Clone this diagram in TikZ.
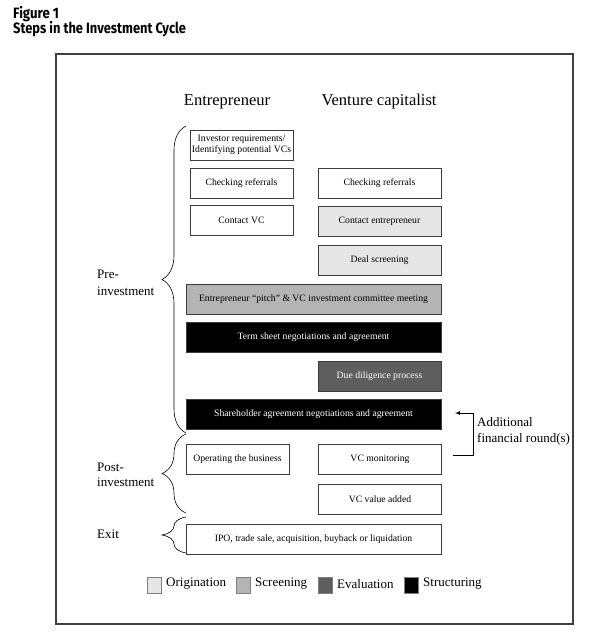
\documentclass[tikz,border=0pt]{standalone}
\usepackage{fontspec}
\setmainfont{Liberation Serif}
\newfontfamily\titlefont{Fira Sans}
\usepackage{graphicx}
\usepackage{tikz}
\usetikzlibrary{decorations.pathreplacing}
\tikzset{>=latex}
\definecolor{origcol}{HTML}{E6E6E6}
\definecolor{screencol}{HTML}{B4B4B4}
\definecolor{evalcol}{HTML}{5E5E5E}
\definecolor{boxline}{HTML}{3C3C3C}
\tikzset{
  stagebox/.style={draw=boxline, line width=0.8pt, minimum height=30pt, inner sep=2pt,
    align=center, font=\fontsize{9.7}{11}\selectfont},
  ebox/.style={stagebox, minimum width=103pt},
  vcbox/.style={stagebox, minimum width=123pt},
  widebox/.style={stagebox, minimum width=255pt},
  structbox/.style={widebox, fill=black, text=white},
  phase/.style={anchor=west, align=left, inner sep=0pt},
  phasebrace/.style={decorate, decoration={brace, amplitude=24pt}, line width=0.6pt},
  legsq/.style={draw=gray, line width=0.8pt, minimum width=14pt, minimum height=16pt, inner sep=0pt},
  legtext/.style={anchor=west, inner sep=0pt, font=\fontsize{13}{15}\selectfont},
  titletext/.style={anchor=base west, inner sep=0pt, font=\titlefont\bfseries\fontsize{15}{16}\selectfont}
}

\begin{document}
\begin{tikzpicture}[x=1pt,y=-1pt]
  \useasboundingbox (0,0) rectangle (609,643);
  \node[titletext] (fig) at (13,18.5) {\scalebox{0.88}[1]{Figure 1}};
  \node[titletext] (steps) at (13,33.5) {\scalebox{0.86}[1]{Steps in the Investment Cycle}};
  \draw[line width=1.3pt, black!75] (56,54) rectangle (573,624);

  \node[font=\fontsize{16.5}{18}\selectfont] (ent) at (227,102) {Entrepreneur};
  \node[font=\fontsize{16.5}{18}\selectfont] (vc) at (379,102) {Venture capitalist};

  % pre-investment
  \node[ebox] (inv) at (241.5,145) {Investor requirements/\\Identifying potential VCs};
  \node[ebox] (refE) at (241.5,183) {Checking referrals};
  \node[ebox] (contactVC) at (241.5,220) {Contact VC};
  \node[vcbox] (refV) at (379.5,183) {Checking referrals};
  \node[vcbox, fill=origcol] (contactE) at (379.5,221) {Contact entrepreneur};
  \node[vcbox, fill=origcol] (deal) at (379.5,260.5) {Deal screening};
  \node[widebox, fill=screencol] (pitch) at (313.5,299) {Entrepreneur ``pitch'' \& VC investment committee meeting};
  \node[structbox] (term) at (313.5,337.5) {Term sheet negotiations and agreement};
  \node[vcbox, fill=evalcol, text=white] (dd) at (379.5,376) {Due diligence process};
  \node[structbox] (share) at (313.5,414.5) {Shareholder agreement negotiations and agreement};

  % post-investment and exit
  \node[ebox] (oper) at (237.5,459) {Operating the business};
  \node[vcbox] (mon) at (380,459) {VC monitoring};
  \node[vcbox] (added) at (380,499.5) {VC value added};
  \node[widebox] (exit) at (313.5,539.5) {IPO, trade sale, acquisition, buyback or liquidation};

  \draw[phasebrace] (186,433) -- (186,126);
  \draw[phasebrace] (186,513) -- (186,434);
  \draw[phasebrace] (186,553) -- (186,517);
  \node[phase, font=\fontsize{13}{17}\selectfont] (pre) at (97,282.5) {Pre-\\investment};
  \node[phase, font=\fontsize{13}{15}\selectfont] (post) at (97,474.5) {Post-\\investment};
  \node[phase, font=\fontsize{13}{15}\selectfont] (ex) at (97,534) {Exit};

  % next round
  \coordinate (monr) at (453,455);
  \coordinate (sharer) at (455,413);
  \draw[->, line width=0.7pt] (monr) -- ++(20,0) |- (sharer);
  \node[phase, font=\fontsize{13}{16}\selectfont] (addl) at (477,431) {Additional\\financial round(s)};

  % legend
  \node[legsq, fill=origcol] (lorig) at (154,585) {};
  \node[legtext] at (166,584) {Origination};
  \node[legsq, fill=screencol] (lscr) at (243,585) {};
  \node[legtext] at (255,584) {Screening};
  \node[legsq, fill=evalcol] (leval) at (325,585) {};
  \node[legtext] at (337,584) {Evaluation};
  \node[legsq, fill=black] (lstruct) at (411,585) {};
  \node[legtext] at (423,584) {Structuring};
\end{tikzpicture}
\end{document}
